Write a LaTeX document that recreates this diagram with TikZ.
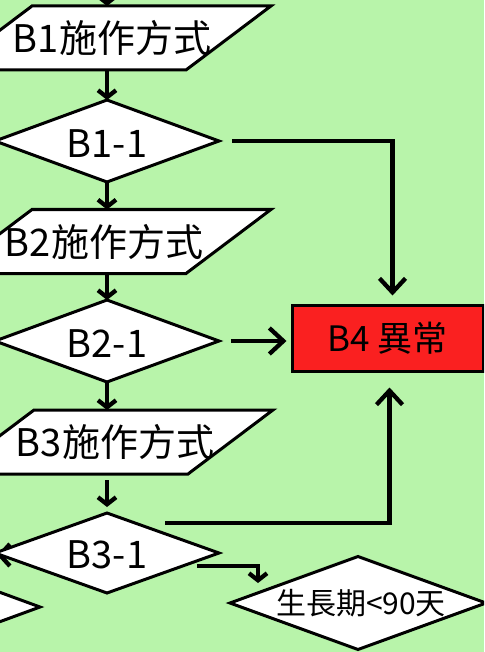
\documentclass[tikz,border=0pt]{standalone}
\usepackage{fontspec}
\setmainfont{Noto Sans CJK TC}
\usetikzlibrary{shapes.geometric,arrows.meta}
\definecolor{bg}{RGB}{184,244,170}
\definecolor{alarm}{RGB}{250,32,32}
\begin{document}
\begin{tikzpicture}[x=1pt,y=-1pt,
  para/.style={trapezium, trapezium left angle=37, trapezium right angle=143,
    text height=64pt, text depth=0pt, text width=154pt,
    inner sep=0pt, outer sep=0pt, draw=black, line width=3pt, fill=white},
  dia/.style={diamond, minimum width=224pt, minimum height=82pt,
    inner sep=0pt, outer sep=0pt, draw=black, line width=3pt, fill=white},
  big/.style={font=\fontsize{38}{40}\selectfont},
  flow/.style={line width=4.3pt, -{Straight Barb[length=7pt,width=18pt]}},
  feed/.style={line width=4.3pt, -{Straight Barb[length=14pt,width=26pt]}},
]
\useasboundingbox (0,0) rectangle (484,652);
\clip (0,0) rectangle (484,652);
\fill[bg] (0,0) rectangle (484,652);

% arrow leaving B3-1 to the left (drawn beneath the diamond)
\coordinate (lstart) at (40,555);
\coordinate (lend) at (-3,555);
\draw[line width=4.3pt, -{Straight Barb[length=10pt,width=22pt]}] (lstart) -- (lend);

\coordinate (top) at (107,-30);

\node[para, label={[name=b1t, big, xshift=3pt]center:B1施作方式}] (b1) at (109,38) {};
\node[dia, label={[name=b11t, big, yshift=-2.5pt]center:B1-1}] (b11) at (107,141) {};
\node[para, label={[name=b2t, big, xshift=-5pt]center:B2施作方式}] (b2) at (109,241.5) {};
\node[dia, label={[name=b21t, big, yshift=-2.5pt]center:B2-1}] (b21) at (107,341) {};
\node[para, label={[name=b3t, big, xshift=4pt]center:B3施作方式}] (b3) at (111,442) {};
\node[dia, minimum height=80pt, label={[name=b31t, big, yshift=-1.5pt]center:B3-1}] (b31) at (107,553) {};
\node[dia] (bl) at (-72,607) {};
\node[dia, minimum width=256pt, minimum height=93pt,
  label={[name=gt, font=\fontsize{30}{32}\selectfont, xshift=3pt]center:生長期<90天}] (g) at (358,603) {};
\node[draw=black, line width=3pt, fill=alarm, minimum width=191pt, minimum height=66pt,
  inner sep=0pt, font=\fontsize{35}{38}\selectfont] (b4) at (387.5,338) {B4 異常};

% main flow
\draw[flow] (top) -- (b11.north |- b1.north);
\draw[flow] (b11.north |- b1.south) -- (b11.north);
\draw[flow] (b11.south) -- (b11.south |- b2.north);
\draw[flow] (b21.north |- b2.south) -- (b21.north);
\draw[flow] (b21.south) -- (b21.south |- b3.north);
\draw[flow, shorten <=6pt, shorten >=6pt] (b31.north |- b3.south) -- (b31.north);

% to B4
\draw[feed, shorten >=8pt] ([xshift=13pt]b11.east) -| ([xshift=5pt]b4.north);
\draw[feed, shorten >=4pt] ([xshift=12pt]b21.east) -- (b21.east -| b4.west);
\draw[feed, shorten >=15pt] ([shift={(58,-30)}]b31.center) -| ([xshift=2pt]b4.south);

% to growth period check
\draw[flow] ([shift={(90,13)}]b31.center) -| ([shift={(-100,-20)}]g.center);
\end{tikzpicture}
\end{document}
